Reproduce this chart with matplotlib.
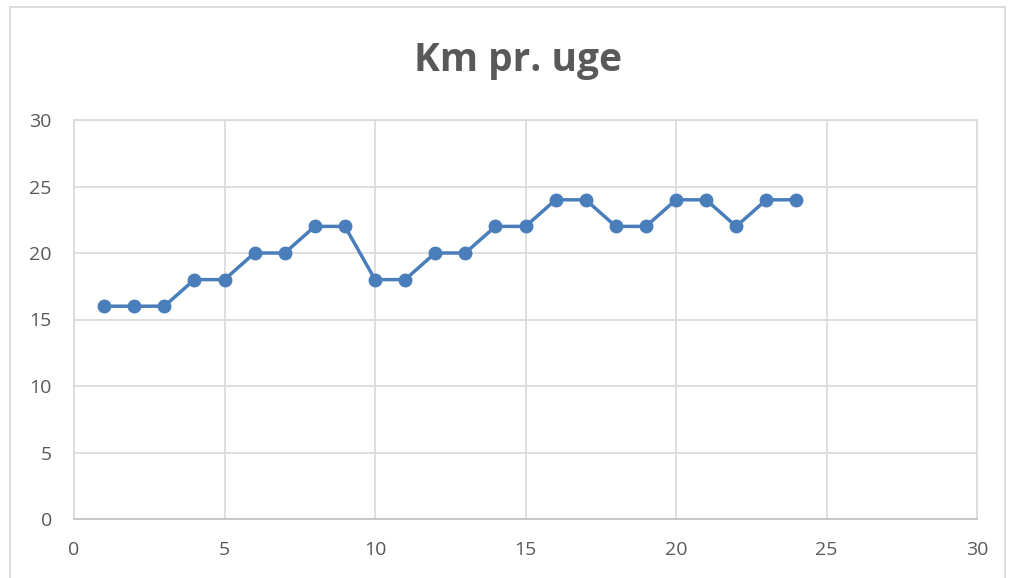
import matplotlib
matplotlib.use("Agg")
import matplotlib.pyplot as plt
from matplotlib.patches import Rectangle

weeks = list(range(1, 25))
km = [16, 16, 16, 18, 18, 20, 20, 22, 22, 18, 18, 20, 20, 22, 22, 24, 24, 22, 22, 24, 24, 22, 24, 24]
title = "Km pr. uge"
xticks = [0, 5, 10, 15, 20, 25, 30]
yticks = [0, 5, 10, 15, 20, 25, 30]

plt.rcParams['font.family'] = ['Open Sans', 'DejaVu Sans']

W, H = 1009, 578
fig = plt.figure(figsize=(W / 100, H / 100), dpi=100)
fig.patch.set_facecolor('white')
fig.patches.append(Rectangle((10 / W, -0.1), (1005 - 10) / W, 1 - 7 / H + 0.1,
                             transform=fig.transFigure, fill=False,
                             edgecolor='#D9D9D9', linewidth=1.3))

ax = fig.add_axes([74 / W, 1 - 519 / H, (977 - 74) / W, (519 - 120) / H])
ax.plot(weeks, km, color='#4A7EBB', linewidth=2.5, marker='o', markersize=9,
        markerfacecolor='#4A7EBB', markeredgecolor='#4A7EBB', zorder=3)
ax.set_xlim(0, 30)
ax.set_ylim(0, 30)
ax.set_xticks(xticks)
ax.set_yticks(yticks)
ax.grid(True, color='#D9D9D9', linewidth=1.2)
ax.set_axisbelow(True)
for s in ['top', 'right', 'left']:
    ax.spines[s].set_color('#D9D9D9')
    ax.spines[s].set_linewidth(1.2)
ax.spines['bottom'].set_color('#BFBFBF')
ax.spines['bottom'].set_linewidth(1.2)
ax.tick_params(length=0, labelsize=14, labelcolor='#595959')
ax.tick_params(axis='y', pad=16)
ax.tick_params(axis='x', pad=16)
fig.text(0.5135, 1 - 61 / H, title, ha='center', va='center', fontsize=28,
         fontweight='bold', color='#595959')

fig.savefig('out.png', dpi=100)
